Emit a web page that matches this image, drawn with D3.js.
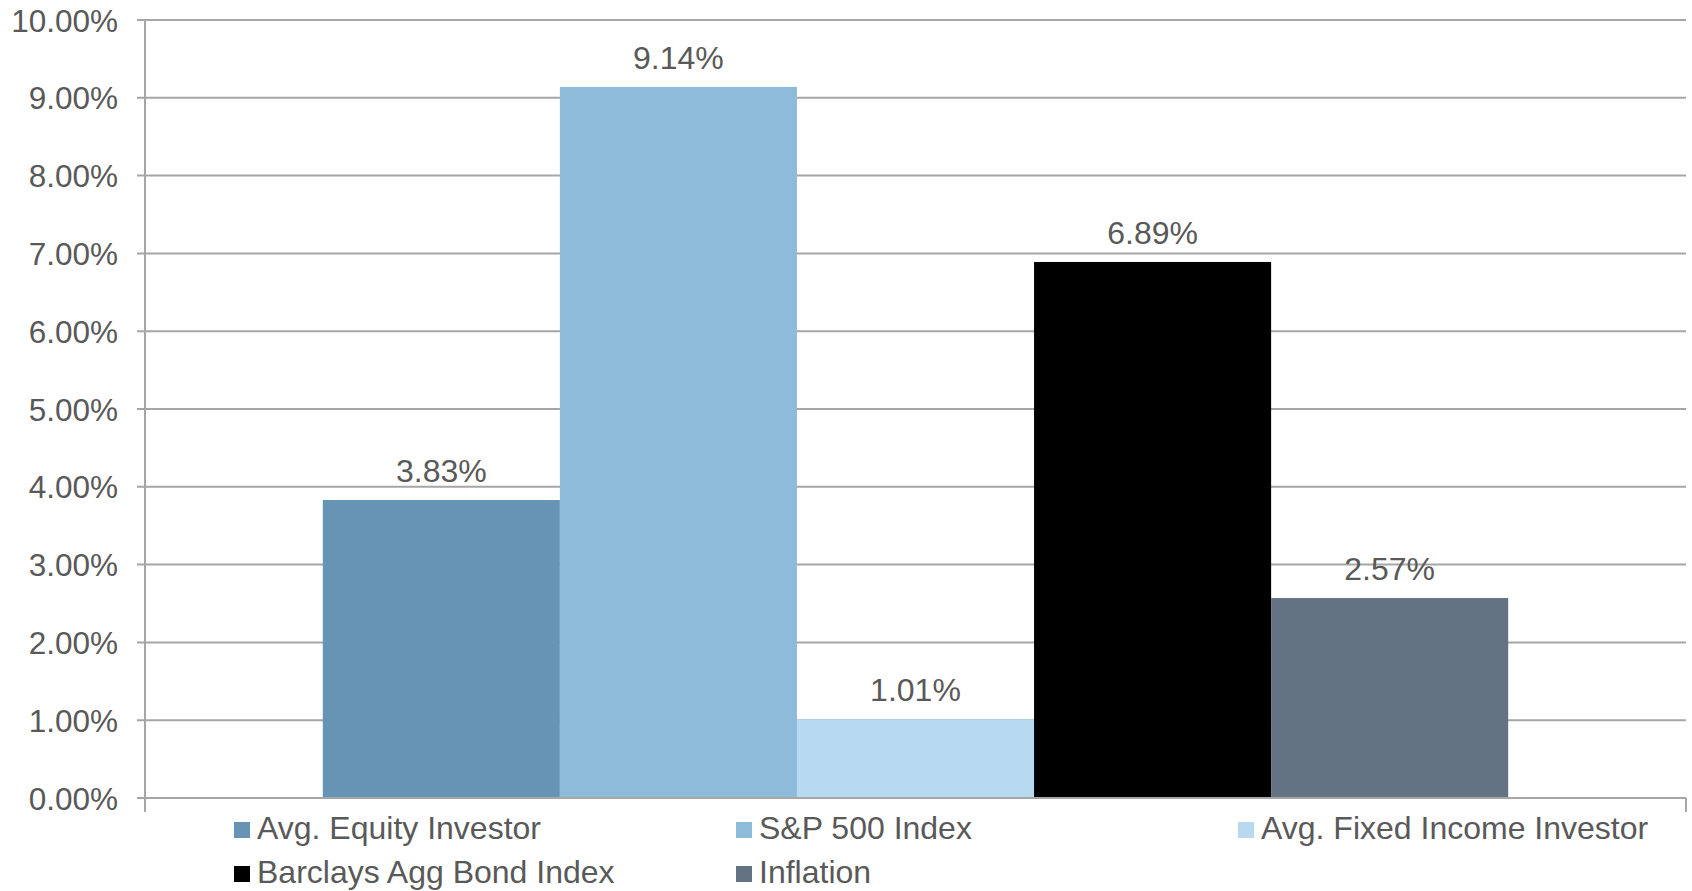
<!DOCTYPE html>
<html>
<head>
<meta charset="utf-8">
<script src="https://cdn.jsdelivr.net/npm/d3@7"></script>
<style>
  html, body { margin: 0; padding: 0; background: #fff; }
  svg { display: block; }
  text { font-family: "Liberation Sans", Arial, sans-serif; fill: #595959; }
</style>
</head>
<body>
<svg id="fig"></svg>
<script>
const category = ['Returns'];
const series = ['Avg. Equity Investor', 'S&P 500 Index', 'Avg. Fixed Income Investor', 'Barclays Agg Bond Index', 'Inflation'];
const values = [3.83, 9.14, 1.01, 6.89, 2.57];
const colors = ['#6794b4', '#8ebbda', '#b7daf1', '#000000', '#637384'];
const yTicks = [0, 1, 2, 3, 4, 5, 6, 7, 8, 9, 10];

const width = 1692, height = 891;
const margin = { top: 20, right: 6, bottom: 93, left: 145 };
const innerWidth = width - margin.left - margin.right;
const innerHeight = height - margin.top - margin.bottom;

const svg = d3.select('#fig')
    .attr('width', width)
    .attr('height', height);

const g = svg.append('g')
    .attr('transform', `translate(${margin.left},${margin.top})`);

const yScale = d3.scaleLinear()
    .domain([0, 10])
    .range([innerHeight, 0]);

// one category, bars take 5 of 6.5 widths (gap width 150%)
const x0 = d3.scaleBand()
    .domain(category)
    .range([0, innerWidth])
    .paddingInner(0)
    .paddingOuter(0.15);
const x1 = d3.scaleBand()
    .domain(series)
    .range([0, x0.bandwidth()])
    .padding(0);

// gridlines
g.append('g').selectAll('line').data(yTicks)
    .enter().append('line')
    .attr('x1', -8)
    .attr('x2', innerWidth)
    .attr('y1', d => yScale(d))
    .attr('y2', d => yScale(d))
    .attr('stroke', '#a6a6a6')
    .attr('stroke-width', 2);

// y labels
g.append('g').selectAll('text').data(yTicks)
    .enter().append('text')
    .attr('x', -27)
    .attr('y', d => yScale(d) + 11.5)
    .attr('text-anchor', 'end')
    .style('font-size', '31.5px')
    .text(d => d3.format('.2f')(d) + '%');

// bars
const bars = g.append('g')
    .attr('transform', `translate(${x0(category[0])},0)`);
bars.selectAll('rect').data(series)
    .enter().append('rect')
    .attr('x', d => x1(d))
    .attr('y', (d, i) => yScale(values[i]))
    .attr('width', x1.bandwidth())
    .attr('height', (d, i) => innerHeight - yScale(values[i]))
    .attr('fill', (d, i) => colors[i]);

bars.selectAll('text').data(series)
    .enter().append('text')
    .attr('x', d => x1(d) + x1.bandwidth() / 2)
    .attr('y', (d, i) => yScale(values[i]) - 18)
    .attr('text-anchor', 'middle')
    .style('font-size', '32px')
    .text((d, i) => d3.format('.2f')(values[i]) + '%');

// axes lines
g.append('line')
    .attr('x1', 0).attr('x2', 0)
    .attr('y1', 0).attr('y2', innerHeight + 14)
    .attr('stroke', '#a6a6a6').attr('stroke-width', 2);
g.append('line')
    .attr('x1', 0).attr('x2', innerWidth)
    .attr('y1', innerHeight).attr('y2', innerHeight)
    .attr('stroke', '#a6a6a6').attr('stroke-width', 2);
g.append('line')
    .attr('x1', innerWidth).attr('x2', innerWidth)
    .attr('y1', innerHeight).attr('y2', innerHeight + 14)
    .attr('stroke', '#a6a6a6').attr('stroke-width', 2);

// legend, 3 columns
const legend = svg.append('g');
const items = legend.selectAll('g').data(series)
    .enter().append('g')
    .attr('transform', (d, i) => `translate(${234 + (i % 3) * 502},${822 + Math.floor(i / 3) * 44})`);
items.append('rect')
    .attr('width', 16)
    .attr('height', 16)
    .attr('fill', (d, i) => colors[i]);
items.append('text')
    .attr('x', 23)
    .attr('y', 16.5)
    .style('font-size', '32px')
    .text(d => d);
</script>
</body>
</html>
